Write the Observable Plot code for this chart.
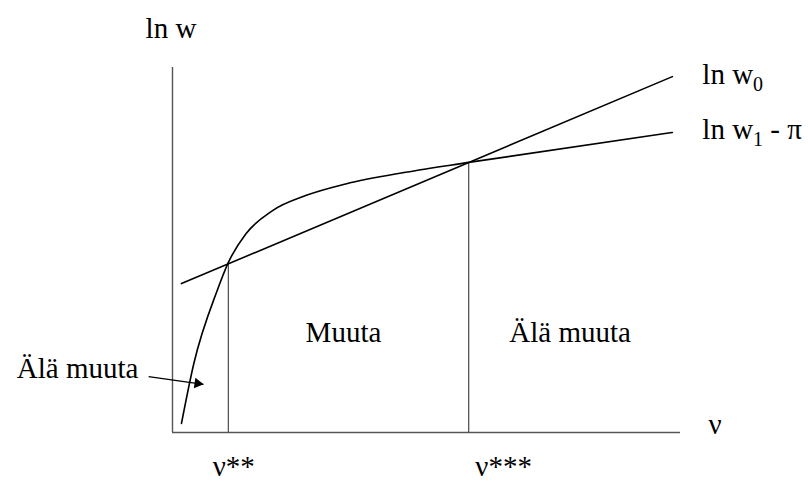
<!DOCTYPE html>
<html><head><meta charset="utf-8">
<script src="https://cdn.jsdelivr.net/npm/d3@7"></script>
<script src="https://cdn.jsdelivr.net/npm/@observablehq/plot@0.6"></script>
<style>body{margin:0;background:#fff}</style>
</head><body><div id="chart"></div>
<script>
// straight line ln w0 (x = ν, y = ln w)
const lineX = [0.177, 9.84];
const lineY = [4.08, 9.75];
// curve ln w1 - π
const curveX = [0.177, 0.42, 0.88, 1.10, 1.45, 1.97, 2.62, 3.41, 4.59, 5.83, 9.84];
const curveY = [0.25, 1.89, 3.89, 4.66, 5.45, 6.08, 6.49, 6.81, 7.13, 7.40, 8.22];
// intersection points ν**, ν***
const switchX = [1.10, 5.83];
const switchY = [4.66, 7.40];
// text annotations (data coordinates)
const labelText   = ["ln w", "ln w_0", "ln w_1 - π", "ν", "ν**", "ν***", "Muuta", "Älä muuta"];
const labelX      = [-0.53, 10.43, 10.43, 10.55, 0.79, 5.96, 2.62, 6.63];
const labelY      = [10.82, 9.56, 8.05, -0.03, -1.19, -1.19, 2.49, 2.49];
// left label with arrow
const noteText = ["Älä muuta"];
const noteX = [-0.67], noteY = [1.48];
const arrowX1 = [-0.47], arrowY1 = [1.53], arrowX2 = [0.61], arrowY2 = [1.32];

const line = lineX.map((x, i) => ({x, y: lineY[i]}));
const curve = curveX.map((x, i) => ({x, y: curveY[i]}));
const switches = switchX.map((x, i) => ({x, y: switchY[i]}));
const labels = labelText.map((t, i) => ({t, x: labelX[i], y: labelY[i]}));
const notes = noteText.map((t, i) => ({t, x: noteX[i], y: noteY[i]}));
const arrows = arrowX1.map((x1, i) => ({x1, y1: arrowY1[i], x2: arrowX2[i], y2: arrowY2[i]}));

const FS = 29;
const font = "'Liberation Serif', 'Times New Roman', serif";
const plot = Plot.plot({
  width: 808, height: 481,
  marginLeft: 172, marginRight: 128, marginTop: 67, marginBottom: 49,
  x: {domain: [0, 10], axis: null},
  y: {domain: [0, 10], axis: null},
  style: {fontFamily: font, background: "#fff"},
  marks: [
    Plot.ruleX([0], {stroke: "#555", strokeWidth: 1.4}),
    Plot.ruleY([0], {stroke: "#555", strokeWidth: 1.4}),
    Plot.ruleX(switches, {x: "x", y1: 0, y2: "y", stroke: "#555", strokeWidth: 1.3}),
    Plot.line(line, {x: "x", y: "y", stroke: "#000", strokeWidth: 1.6}),
    Plot.line(curve, {x: "x", y: "y", stroke: "#000", strokeWidth: 1.6, curve: "monotone-x"}),
    Plot.link(arrows, {x1: "x1", y1: "y1", x2: "x2", y2: "y2", stroke: "#000", strokeWidth: 1.4}),
    Plot.dot(arrows, {x: "x2", y: "y2", symbol: "triangle", r: 3.9, fill: "#000", stroke: null, rotate: 98.3, dx: -5.9, dy: -0.9}),
    Plot.text(labels, {x: "x", y: "y", text: "t", textAnchor: "start", lineAnchor: "bottom", fontSize: FS, fontFamily: font, fill: "#000"}),
    Plot.text(notes, {x: "x", y: "y", text: "t", textAnchor: "end", lineAnchor: "bottom", fontSize: FS, fontFamily: font, fill: "#000"})
  ]
});
// subscripts
const ns = "http://www.w3.org/2000/svg";
plot.querySelectorAll("text").forEach(t => {
  t.style.fontFamily = font;
  const m = t.textContent.match(/^(.*?)_(\S)(.*)$/);
  if (!m) return;
  t.textContent = "";
  const a = document.createElementNS(ns, "tspan"); a.textContent = m[1];
  const b = document.createElementNS(ns, "tspan"); b.textContent = m[2];
  b.setAttribute("font-size", "20"); b.setAttribute("dy", "7");
  t.appendChild(a); t.appendChild(b);
  if (m[3]) {
    const c = document.createElementNS(ns, "tspan"); c.textContent = m[3]; c.setAttribute("dy", "-7");
    t.appendChild(c);
  }
});
document.getElementById("chart").appendChild(plot);
</script>
</body></html>
